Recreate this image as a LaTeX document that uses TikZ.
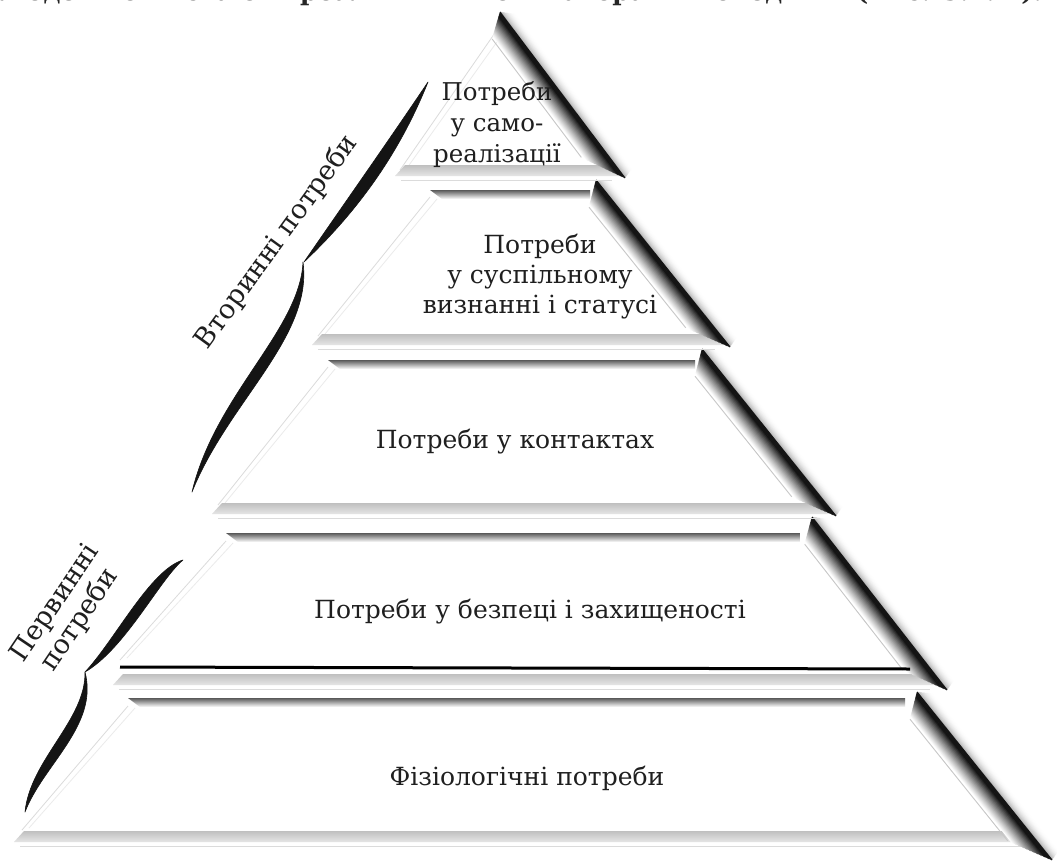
\documentclass[tikz,border=0pt]{standalone}
\usepackage{fontspec}
\setmainfont{DejaVu Serif}
\usetikzlibrary{calc}
% right bevel of a layer: outer top point (#1,#2), outer tip (#3,#4)
\newcommand\pyrbevel[4]{%
  \pgfmathsetmacro\bL{veclen(#3-#1,#4-#2)}%
  \pgfmathsetmacro\bux{(#3-#1)/\bL}%
  \pgfmathsetmacro\buy{(#4-#2)/\bL}%
  \foreach \s in {10,...,1}{%
    \pgfmathsetmacro\cc{32*(1-\s/11)^2}%
    \pgfmathsetmacro\pa{1.0*\s}%
    \pgfmathsetmacro\pb{0.3*\s}%
    \draw[line width=1.2pt, black!\cc]
      ({#1+\pa*\bux+\s*\buy},{#2+\pa*\buy-\s*\bux}) --
      ({#3-\pb*\bux+\s*\buy},{#4-\pb*\buy-\s*\bux});
  }%
  \pgfmathsetmacro\da{22.5}%
  \draw[line width=0.9pt, black!22]
      ({#1+0.75*\da*\bux-\da*\buy},{#2+0.75*\da*\buy+\da*\bux}) --
      ({#3-1.9*\da*\bux-\da*\buy},{#4-1.9*\da*\buy+\da*\bux});
  \foreach \i in {29,...,0}{%
    \pgfmathsetmacro\d{0.7*\i}%
    \pgfmathsetmacro\cc{\d<3.5 ? 92 : 92*(1-(\d-3.5)/16.8)^1.15}%
    \pgfmathsetmacro\pa{0.75*\d}%
    \pgfmathsetmacro\pb{1.9*\d}%
    \draw[line width=1.2pt, black!\cc]
      ({#1+\pa*\bux-\d*\buy},{#2+\pa*\buy+\d*\bux}) --
      ({#3-\pb*\bux-\d*\buy},{#4-\pb*\buy+\d*\bux});
  }%
}
% top bar: left x, right x, top y
\newcommand\pyrtop[3]{%
  \shade[top color=black!65, bottom color=white]
    (#1,#3) -- (#2,#3) -- (#2,#3+9) -- (#1+12,#3+9) -- cycle;
}
% bottom bar: left x, right x, bottom y
\newcommand\pyrbot[3]{%
  \shade[top color=black!25, middle color=black!60, bottom color=black!10]
    (#1,#3) -- (#1+10,#3-11) -- (#2,#3-11) -- (#2+8,#3) -- cycle;
  \draw[black!14, line width=0.9pt] (#1+6,#3+4) -- (#2,#3+4);
}
% left edge
\newcommand\pyrleft[4]{%
  \draw[black!14, line width=0.8pt] (#1,#2) -- (#3,#4);
  \draw[black!8, line width=0.8pt] (#1+7,#2+2) -- (#3+7,#4-2);
}
\begin{document}
\begin{tikzpicture}[x=1pt,y=-1pt,
  lab/.style={font=\fontsize{25}{30}\selectfont, text=black!88, align=center, inner sep=0pt},
  side/.style={font=\fontsize{27}{30}\selectfont, text=black!88, align=center, inner sep=0pt},
  brace/.style={fill=black!92, draw=black!92, line width=0.6pt, line join=round}]
\useasboundingbox (0,0) rectangle (1057,862);
\clip (0,0) rectangle (1057,862);
\fill[white] (0,0) rectangle (1057,862);

% cut-off line of text at the top
\node[anchor=base, inner sep=0pt, text=black!85] (head) at (521,1)
  {\resizebox{1042pt}{!}{\bfseries людей вони стають реальними мотиваторами поведінки (Рис. 5.2.2 ).}};

% ---- layer 5
\pyrtop{128}{905}{698}
\pyrleft{128}{706}{22}{830}
\pyrbot{14}{1035}{842}
\pyrbevel{917}{692}{1052}{860}
% ---- layer 4
\pyrtop{226}{800}{533}
\pyrleft{226}{541}{120}{660}
\pyrbot{113}{930}{685}
\pyrbevel{812}{517}{947}{690}
\draw[line width=3pt, black] (120,667) -- (910,669);
% ---- layer 3
\pyrtop{328}{695}{360}
\pyrleft{328}{367}{218}{505}
\pyrbot{212}{820}{514}
\pyrbevel{702}{349}{836}{516}
% ---- layer 2
\pyrtop{430}{590}{190}
\pyrleft{430}{197}{318}{336}
\pyrbot{312}{715}{345}
\pyrbevel{596}{180}{730}{347}
% ---- layer 1
\pyrleft{497}{30}{400}{170}
\pyrbot{395}{612}{176}
\pyrbevel{500}{12}{625}{178}

% texts
\node[lab, font=\fontsize{24.5}{31}\selectfont] (t1) at (497,125) {Потреби\\у само-\\реалізації};
\node[lab] (t2) at (540,277) {Потреби\\у суспільному\\визнанні і статусі};
\node[lab] (t3) at (515,442) {Потреби у контактах};
\node[lab] (t4) at (530,612) {Потреби у безпеці і захищеності};
\node[lab] (t5) at (527,778) {Фізіологічні потреби};

% braces
\path[brace] (304,262) .. controls (346,201) and (387,143) .. (428,82)
  .. controls (400,152) and (359,210) .. (304,262) -- cycle;
\path[brace] (303,262) .. controls (300,330) and (215,395) .. (192,492)
  .. controls (228,402) and (313,337) .. (303,262) -- cycle;
\path[brace] (183,560) .. controls (150,570) and (115,640) .. (85,672)
  .. controls (125,649) and (160,579) .. (183,560) -- cycle;
\path[brace] (85,672) .. controls (86,720) and (30,760) .. (25,812)
  .. controls (43,765) and (99,725) .. (85,672) -- cycle;

\node[side, rotate=54] (s1) at (277,242) {Вторинні потреби};
\node[side, rotate=56] (s2) at (68,612) {Первинні\\потреби};
\end{tikzpicture}
\end{document}
